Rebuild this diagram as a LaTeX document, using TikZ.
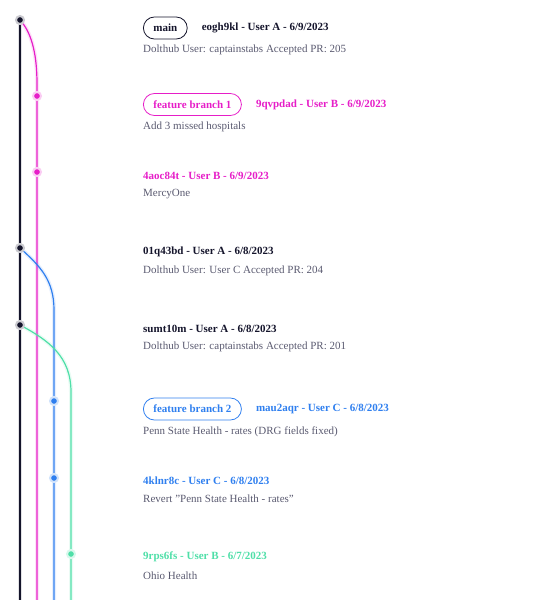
\documentclass[tikz,border=0pt]{standalone}
\usepackage{fontspec}
\setmainfont{Liberation Serif}
\usetikzlibrary{positioning,backgrounds}

\definecolor{mainc}{HTML}{14142B}
\definecolor{featb}{HTML}{E61EC8}
\definecolor{featc}{HTML}{2F7FEF}
\definecolor{featd}{HTML}{4FDFA8}
\definecolor{msgc}{HTML}{5A5A70}

\tikzset{
  commit/.style={circle, fill=#1, draw=#1!22, line width=2pt, inner sep=0pt, minimum size=8pt},
  branch/.style={draw=#1, line width=1.2pt, preaction={draw=#1, line width=4pt, opacity=0.12}},
  tag/.style={draw=#1, text=#1, rounded corners=11pt, minimum height=22pt, inner xsep=10pt, inner ysep=0pt,
    line width=0.8pt, font=\fontsize{11}{13}\selectfont\bfseries, anchor=west},
  title/.style={text=#1, font=\fontsize{11}{13}\selectfont\bfseries, inner sep=0pt, anchor=west},
  msg/.style={text=msgc, font=\fontsize{11}{13}\selectfont, inner sep=0pt, anchor=west},
}

\begin{document}
\begin{tikzpicture}[x=1pt,y=-1pt]
    \useasboundingbox (0,0) rectangle (545,600);

    % 提交点
    \node[commit=mainc] (a1) at (20,20) {};  % main
    \node[commit=featb] (b1) at (37,96) {};  % feature branch 1
    \node[commit=featb] (b2) at (37,172) {};
    \node[commit=mainc] (a2) at (20,248) {};
    \node[commit=mainc] (a3) at (20,325) {};
    \node[commit=featc] (c1) at (54,401) {};  % feature branch 2
    \node[commit=featc] (c2) at (54,478) {};
    \node[commit=featd] (d1) at (71,554) {};

    % 分支线的下端
    \coordinate (aend) at (20,600);
    \coordinate (bend) at (37,600);
    \coordinate (cend) at (54,600);
    \coordinate (dend) at (71,600);

    % 分支线, 放在底层
    \begin{scope}[on background layer]
        \draw[branch=mainc] (a1.center) -- (a2.center) -- (a3.center) -- (aend);
        \draw[branch=featb] (a1.center) .. controls (33,34) and (37,58) .. (37,84) -- (b1.center) -- (b2.center) -- (bend);
        \draw[branch=featc] (a2.center) .. controls (40,266) and (54,280) .. (54,310) -- (c1.center) -- (c2.center) -- (cend);
        \draw[branch=featd] (a3.center) .. controls (48,340) and (71,356) .. (71,392) -- (d1.center) -- (dend);
    \end{scope}

    % 提交信息
    \node[tag=mainc] (tmain) at (143,28) {main};
    \node[title=mainc, right=14pt of tmain] (h1) {eogh9kl - User A - 6/9/2023};
    \node[msg] (m1) at (143,50) {Dolthub User: captainstabs Accepted PR: 205};

    \node[tag=featb] (tfb1) at (143,104.5) {feature branch 1};
    \node[title=featb, right=14pt of tfb1] (h2) {9qvpdad - User B - 6/9/2023};
    \node[msg] (m2) at (143,127) {Add 3 missed hospitals};

    \node[title=featb] (h3) at (143,176) {4aoc84t - User B - 6/9/2023};
    \node[msg] (m3) at (143,194.5) {MercyOne};

    \node[title=mainc] (h4) at (143,252) {01q43bd - User A - 6/8/2023};
    \node[msg] (m4) at (143,270.5) {Dolthub User: User C Accepted PR: 204};

    \node[title=mainc] (h5) at (143,328.5) {sumt10m - User A - 6/8/2023};
    \node[msg] (m5) at (143,346.5) {Dolthub User: captainstabs Accepted PR: 201};

    \node[tag=featc] (tfb2) at (143,409) {feature branch 2};
    \node[title=featc, right=14pt of tfb2] (h6) {mau2aqr - User C - 6/8/2023};
    \node[msg] (m6) at (143,432) {Penn State Health - rates (DRG fields fixed)};

    \node[title=featc] (h7) at (143,481) {4klnr8c - User C - 6/8/2023};
    \node[msg] (m7) at (143,499) {Revert \char34 Penn State Health - rates\char34};

    \node[title=featd] (h8) at (143,557) {9rps6fs - User B - 6/7/2023};
    \node[msg] (m8) at (143,575.5) {Ohio Health};

\end{tikzpicture}
\end{document}
